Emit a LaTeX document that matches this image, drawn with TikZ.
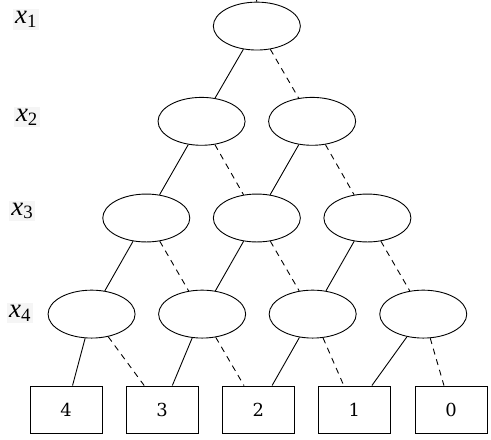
\documentclass[tikz,border=0pt]{standalone}
\usepackage{fontspec}
\newfontfamily\numfont{DejaVu Serif}
\newfontfamily\labfont{Liberation Serif}
\usepackage{tikz}
\usetikzlibrary{shapes.geometric}

\begin{document}
\begin{tikzpicture}[line width=0.9pt, var/.style={ellipse, draw, minimum width=3.07cm, minimum height=1.69cm}, leaf/.style={rectangle, draw, minimum width=2.54cm, minimum height=1.69cm, font=\numfont\fontsize{18}{20}\selectfont}, lvl/.style={fill=gray!8, inner sep=2pt, font=\labfont\fontsize{27}{30}\selectfont}, low/.style={dash pattern=on 6pt off 5pt}]
\useasboundingbox (0,0) rectangle (17.32,-15.52);
\node[lvl] at (0.92,-0.69) (l1) {\textit{x}\textsubscript{1}};
\node[lvl] at (0.95,-4.13) (l2) {\textit{x}\textsubscript{2}};
\node[lvl] at (0.79,-7.44) (l3) {\textit{x}\textsubscript{3}};
\node[lvl] at (0.71,-11.04) (l4) {\textit{x}\textsubscript{4}};
\coordinate (top) at (9.05,0);
\node[var] at (9.06,-0.92) (v11) {};
\node[var] at (7.11,-4.28) (v21) {};
\node[var] at (11.01,-4.28) (v22) {};
\node[var] at (5.16,-7.69) (v31) {};
\node[var] at (9.06,-7.69) (v32) {};
\node[var] at (12.96,-7.69) (v33) {};
\node[var] at (3.23,-11.08) (v41) {};
\node[var] at (7.13,-11.08) (v42) {};
\node[var] at (11.03,-11.08) (v43) {};
\node[var] at (14.93,-11.08) (v44) {};
\node[leaf] at (2.33,-14.46) (t4) {4};
\node[leaf] at (5.72,-14.46) (t3) {3};
\node[leaf] at (9.11,-14.46) (t2) {2};
\node[leaf] at (12.50,-14.46) (t1) {1};
\node[leaf] at (15.91,-14.46) (t0) {0};
\draw (top) -- (v11);
\draw (v11) edge (v21) edge[low] (v22);
\draw (v21) edge (v31) edge[low] (v32);
\draw (v22) edge (v32) edge[low] (v33);
\draw (v31) edge (v41) edge[low] (v42);
\draw (v32) edge (v42) edge[low] (v43);
\draw (v33) edge (v43) edge[low] (v44);
\draw (v41) edge (t4) edge[low] (t3);
\draw (v42) edge (t3) edge[low] (t2);
\draw (v43) edge (t2) edge[low] (t1);
\draw (v44) edge (t1) edge[low] (t0);
\end{tikzpicture}
\end{document}
